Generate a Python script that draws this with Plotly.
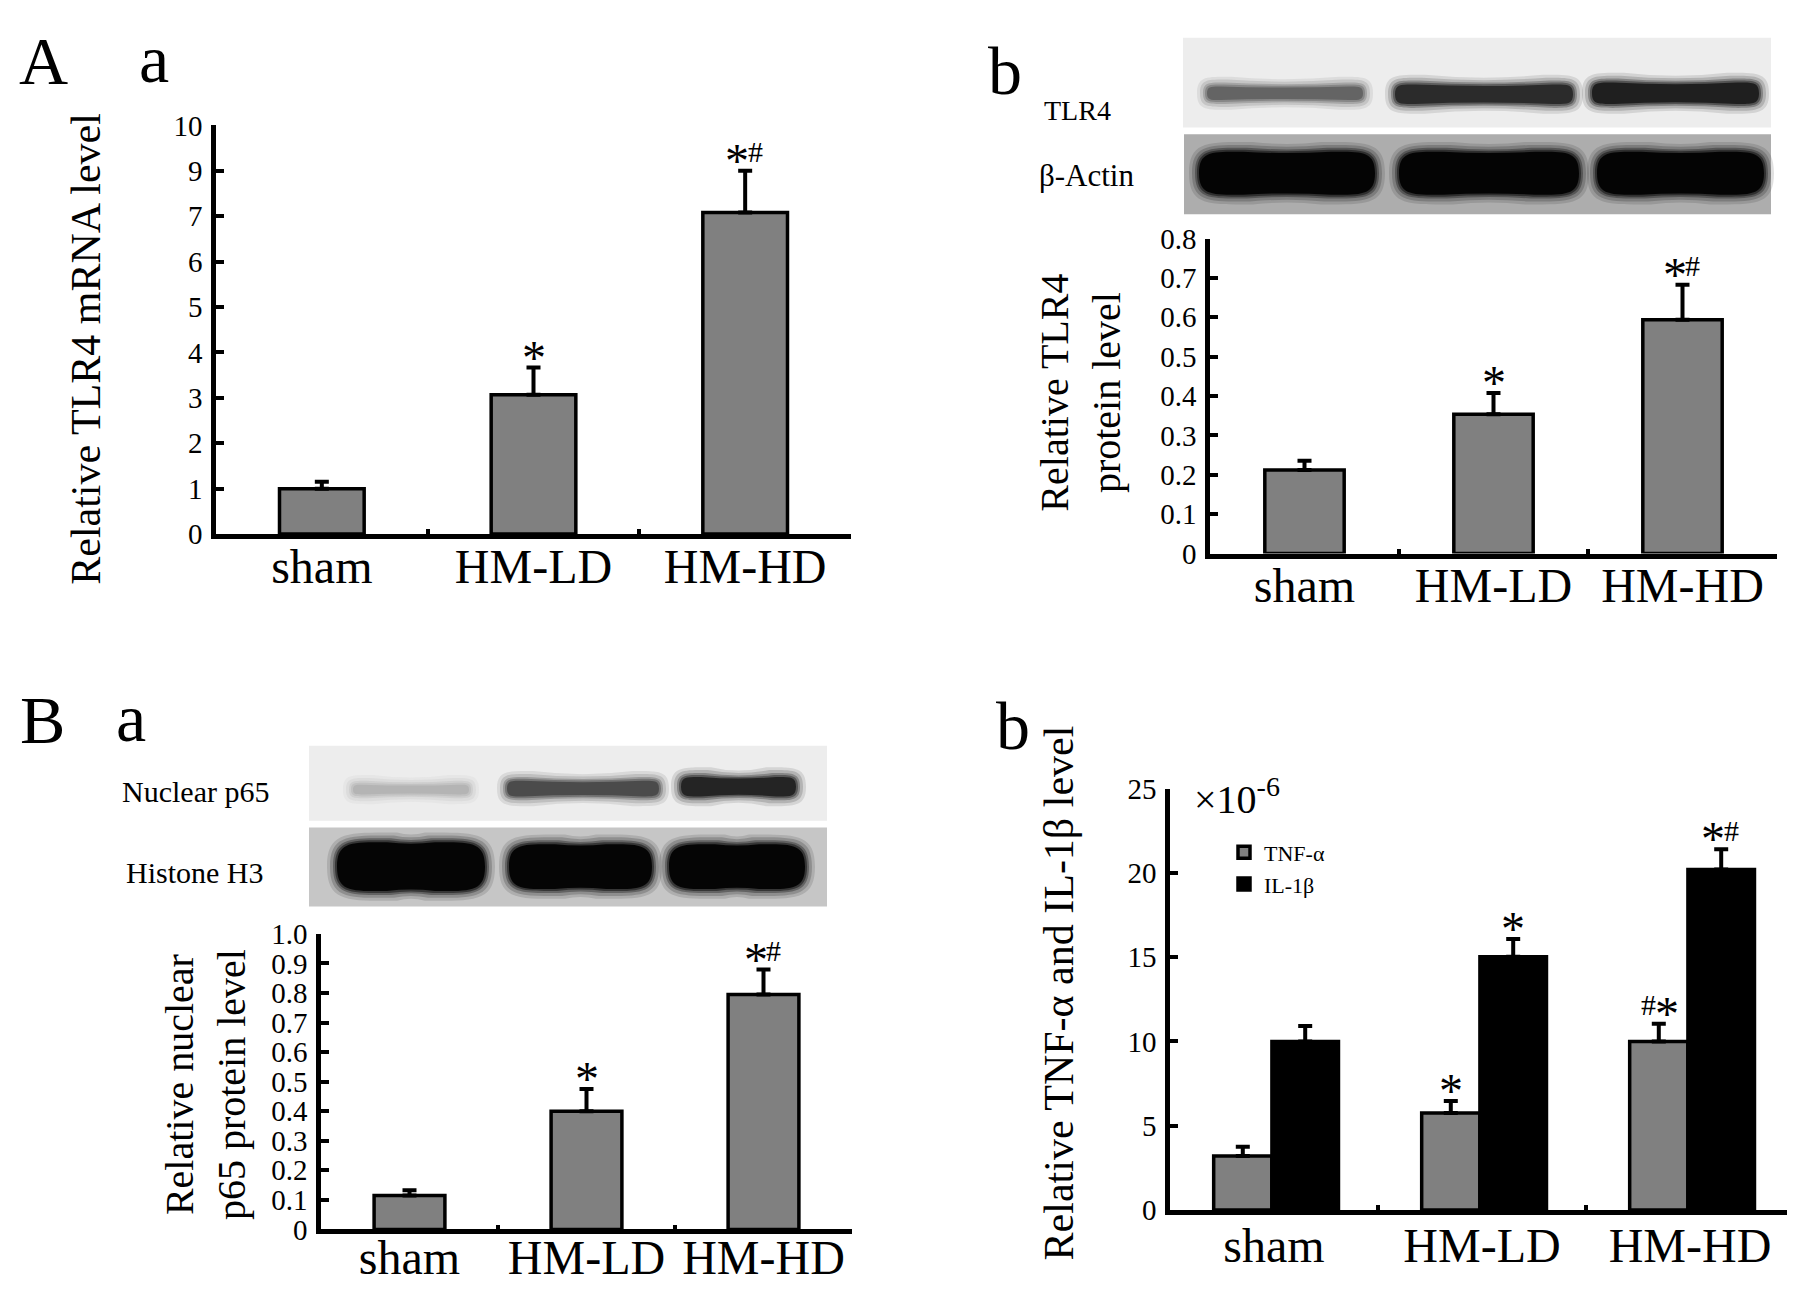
import plotly.graph_objects as go

W, H = 1795, 1294
FONT = "Liberation Serif"


def px(x):
    return x / W


def py(y):
    return 1 - y / H


# ---------------- data ----------------
categories = ["sham", "HM-LD", "HM-HD"]

# A-a  (axis positions 0..9, labelled as in the original figure)
tlr4_mrna = [1.0, 3.07, 7.08]
tlr4_mrna_err = [0.15, 0.6, 0.92]
tlr4_mrna_tickvals = [0, 1, 2, 3, 4, 5, 6, 7, 8, 9]
tlr4_mrna_ticktext = ["0", "1", "2", "3", "4", "5", "6", "7", "9", "10"]
tlr4_mrna_sig = ["", "*", "*#"]

# A-b
tlr4_protein = [0.212, 0.354, 0.594]
tlr4_protein_err = [0.024, 0.054, 0.089]
tlr4_protein_ticks = [0, 0.1, 0.2, 0.3, 0.4, 0.5, 0.6, 0.7, 0.8]
tlr4_protein_ticktext = ["0", "0.1", "0.2", "0.3", "0.4", "0.5", "0.6", "0.7", "0.8"]
tlr4_protein_sig = ["", "*", "*#"]

# B-a
p65_protein = [0.115, 0.40, 0.795]
p65_protein_err = [0.018, 0.075, 0.085]
p65_ticks = [0, 0.1, 0.2, 0.3, 0.4, 0.5, 0.6, 0.7, 0.8, 0.9, 1.0]
p65_ticktext = ["0", "0.1", "0.2", "0.3", "0.4", "0.5", "0.6", "0.7", "0.8", "0.9", "1.0"]
p65_sig = ["", "*", "*#"]

# B-b (x10^-6)
tnf = [3.2, 5.75, 10.0]
tnf_err = [0.55, 0.72, 1.05]
il1b = [10.0, 15.03, 20.2]
il1b_err = [0.92, 1.05, 1.2]
cyto_ticks = [0, 5, 10, 15, 20, 25]
tnf_sig = ["", "*", "#*"]
il1b_sig = ["", "*", "*#"]

# western blot band intensities (0 = none, 1 = black)
tlr4_band = [0.62, 0.85, 0.9]
actin_band = [1.0, 1.0, 1.0]
p65_band = [0.3, 0.72, 0.88]
h3_band = [1.0, 1.0, 1.0]

# ---------------- figure ----------------
fig = go.Figure()

GRAY = "#808080"
panels = {
    # name: (x0, x1, y_top, y_zero) in pixels
    "Aa": (208, 843, 104, 523),
    "Ab": (1202, 1769, 220, 543),
    "Ba": (313, 844, 933, 1236),
    "Bb": (1162, 1786, 784, 1216),
}
axis_ids = {"Aa": ("x", "y"), "Ab": ("x2", "y2"), "Ba": ("x3", "y3"), "Bb": ("x4", "y4")}


def add_bar(panel, y, err, color, width, offset=None, name=None, showlegend=False):
    xa, ya = axis_ids[panel]
    fig.add_trace(go.Bar(
        x=categories, y=y, xaxis=xa, yaxis=ya, width=width, offset=offset,
        name=name, showlegend=showlegend,
        marker=dict(color=color, line=dict(color="black", width=3.5)),
        error_y=dict(type="data", symmetric=False, array=err, arrayminus=[0] * len(err),
                     color="black", thickness=4, width=7),
    ))


add_bar("Aa", tlr4_mrna, tlr4_mrna_err, GRAY, 0.40)
add_bar("Ab", tlr4_protein, tlr4_protein_err, GRAY, 0.42)
add_bar("Ba", p65_protein, p65_protein_err, GRAY, 0.40)
add_bar("Bb", tnf, tnf_err, GRAY, 0.28, offset=-0.29, name="TNF-α", showlegend=True)
add_bar("Bb", il1b, il1b_err, "black", 0.32, offset=-0.01, name="IL-1β", showlegend=True)

layout = dict(
    width=W, height=H, margin=dict(l=0, r=0, t=0, b=0),
    paper_bgcolor="white", plot_bgcolor="white",
    font=dict(family=FONT, color="black"),
    barmode="overlay",
    showlegend=True,
)

yranges = {
    "Aa": ([0, 9], tlr4_mrna_tickvals, tlr4_mrna_ticktext),
    "Ab": ([0, 0.8], tlr4_protein_ticks, tlr4_protein_ticktext),
    "Ba": ([0, 1.0], p65_ticks, p65_ticktext),
    "Bb": ([0, 25], cyto_ticks, [str(v) for v in cyto_ticks]),
}
standoffs = {"Aa": -13, "Ab": -14, "Ba": -18, "Bb": -10}

for i, (panel, (x0, x1, yt, yz)) in enumerate(panels.items()):
    suffix = "" if i == 0 else str(i + 1)
    rng, tv, tt = yranges[panel]
    layout["xaxis" + suffix] = dict(
        domain=[px(x0), px(x1)], anchor="y" + suffix,
        type="category", range=[-0.5, 2.5],
        showline=True, linecolor="black", linewidth=4.5,
        ticks="inside", tickson="boundaries", ticklen=5, tickwidth=4, tickcolor="black",
        tickfont=dict(family=FONT, size=48), ticklabelstandoff=standoffs[panel],
        showgrid=False, zeroline=False, fixedrange=True,
    )
    layout["yaxis" + suffix] = dict(
        domain=[py(yz), py(yt)], anchor="x" + suffix,
        range=rng, tickvals=tv, ticktext=tt,
        showline=True, linecolor="black", linewidth=4.5,
        ticks="inside", ticklen=8, tickwidth=4, tickcolor="black",
        tickfont=dict(family=FONT, size=29), ticklabelstandoff=3,
        showgrid=False, zeroline=False, fixedrange=True,
    )

fig.update_layout(**layout)

fig.update_layout(legend=dict(
    x=px(1216), y=py(828), xanchor="left", yanchor="top",
    font=dict(family=FONT, size=22), bgcolor="rgba(0,0,0,0)",
    itemwidth=30, tracegroupgap=2,
))

annotations = []


def text(x, y, s, size, angle=0, xanchor="center", yanchor="middle"):
    annotations.append(dict(
        x=px(x), y=py(y), xref="paper", yref="paper", text=s, showarrow=False,
        textangle=angle, xanchor=xanchor, yanchor=yanchor,
        font=dict(family=FONT, size=size, color="black"),
    ))


# panel letters
text(35, 38, "A", 68)
text(146, 36, "a", 68)
text(997, 48, "b", 68)
text(34, 714, "B", 68)
text(123, 712, "a", 68)
text(1005, 720, "b", 68)

# axis titles
text(78, 333, "Relative TLR4 mRNA level", 42, angle=-90)
text(1073, 378, "Relative TLR4<br>protein level", 40, angle=-90)
text(197, 1088, "Relative nuclear<br>p65 protein level", 40, angle=-90)
text(1051, 994, "Relative TNF-α and IL-1β level", 42, angle=-90)

# blot labels
text(1069, 89, "TLR4", 28)
text(1078, 155, "β-Actin", 31)
text(187, 787, "Nuclear p65", 30)
text(187, 870, "Histone H3", 30)

# x10^-6
text(1184, 792, "×10<sup>-6</sup>", 40, xanchor="left")

GAP = 19  # px between error cap and symbol centre


def sig(panel, xpos, yval, s):
    if not s:
        return
    xa, ya = axis_ids[panel]
    n = len(s)
    offs = [0] if n == 1 else [-8, 10]
    if n == 2 and s[0] == "#":
        offs = [-10, 8]
    for ch, dx in zip(s, offs):
        size = 48 if ch == "*" else 30
        lift = 0.18 * size if ch == "*" else 0
        annotations.append(dict(
            x=xpos, y=yval, xref=xa, yref=ya, text=ch, showarrow=False,
            xanchor="center", yanchor="middle", xshift=dx, yshift=GAP - lift,
            font=dict(family=FONT, size=size, color="black"),
        ))


for i in range(3):
    sig("Aa", i, tlr4_mrna[i] + tlr4_mrna_err[i], tlr4_mrna_sig[i])
    sig("Ab", i, tlr4_protein[i] + tlr4_protein_err[i], tlr4_protein_sig[i])
    sig("Ba", i, p65_protein[i] + p65_protein_err[i], p65_sig[i])
    sig("Bb", i - 0.15, tnf[i] + tnf_err[i], tnf_sig[i])
    sig("Bb", i + 0.15, il1b[i] + il1b_err[i], il1b_sig[i])

fig.update_layout(annotations=annotations)

# ---------------- western blots (drawn as shapes) ----------------
shapes = []


def rect(x0, y0, x1, y1, color):
    shapes.append(dict(type="rect", xref="paper", yref="paper",
                       x0=px(x0), x1=px(x1), y0=py(y1), y1=py(y0),
                       fillcolor=color, line=dict(width=0), layer="below"))


def band_path(x0, x1, yc, hh, waist):
    r = min(hh, (x1 - x0) / 4)
    xm = (x0 + x1) / 2
    pts = [
        ("M", [(x0, yc)]),
        ("C", [(x0, yc - hh * 1.05), (x0 + r * 0.6, yc - hh), (x0 + 2 * r, yc - hh)]),
        ("Q", [(xm, yc - hh * (1 - waist)), (x1 - 2 * r, yc - hh)]),
        ("C", [(x1 - r * 0.6, yc - hh), (x1, yc - hh * 1.05), (x1, yc)]),
        ("C", [(x1, yc + hh * 1.05), (x1 - r * 0.6, yc + hh), (x1 - 2 * r, yc + hh)]),
        ("Q", [(xm, yc + hh * (1 - waist)), (x0 + 2 * r, yc + hh)]),
        ("C", [(x0 + r * 0.6, yc + hh), (x0, yc + hh * 1.05), (x0, yc)]),
    ]
    out = ""
    for cmd, ps in pts:
        out += cmd + " ".join(f"{px(a):.5f},{py(b):.5f}" for a, b in ps) + " "
    return out + "Z"


def band(x0, x1, yc, hh, intensity, waist=0.15):
    g = int(round(255 * (1 - intensity)))
    col = f"rgb({g},{g},{g})"
    for grow, op in [(9, 0.12), (6, 0.18), (3, 0.3), (1, 0.45), (-1, 0.9)]:
        shapes.append(dict(type="path", xref="paper", yref="paper",
                           path=band_path(x0 - grow, x1 + grow, yc, max(hh + grow, 2), waist),
                           fillcolor=col, opacity=op, line=dict(width=0), layer="below"))


# A-b blots
rect(1175, 14, 1763, 106, "#ededed")
tlr4_lanes = [(1198, 1356, 71, 8), (1386, 1566, 72, 11), (1583, 1752, 71, 12)]
for (a, b, c, h), inten in zip(tlr4_lanes, tlr4_band):
    band(a, b, c, h, inten, waist=0.3)
rect(1176, 113, 1763, 195, "#adadad")
actin_lanes = [(1190, 1368, 153, 23), (1390, 1572, 153, 23), (1588, 1757, 153, 23)]
for (a, b, c, h), inten in zip(actin_lanes, actin_band):
    band(a, b, c, h, inten, waist=0.12)

# B-a blots
rect(301, 740, 819, 817, "#ededed")
p65_lanes = [(344, 462, 785, 6), (498, 652, 784, 9), (672, 789, 782, 11)]
for (a, b, c, h), inten in zip(p65_lanes, p65_band):
    band(a, b, c, h, inten, waist=0.35)
rect(301, 824, 819, 905, "#c6c6c6")
h3_lanes = [(328, 478, 864, 26), (500, 645, 864, 24), (660, 798, 864, 24)]
for (a, b, c, h), inten in zip(h3_lanes, h3_band):
    band(a, b, c, h, inten, waist=0.12)

fig.update_layout(shapes=shapes)

fig.write_html("out.html")
